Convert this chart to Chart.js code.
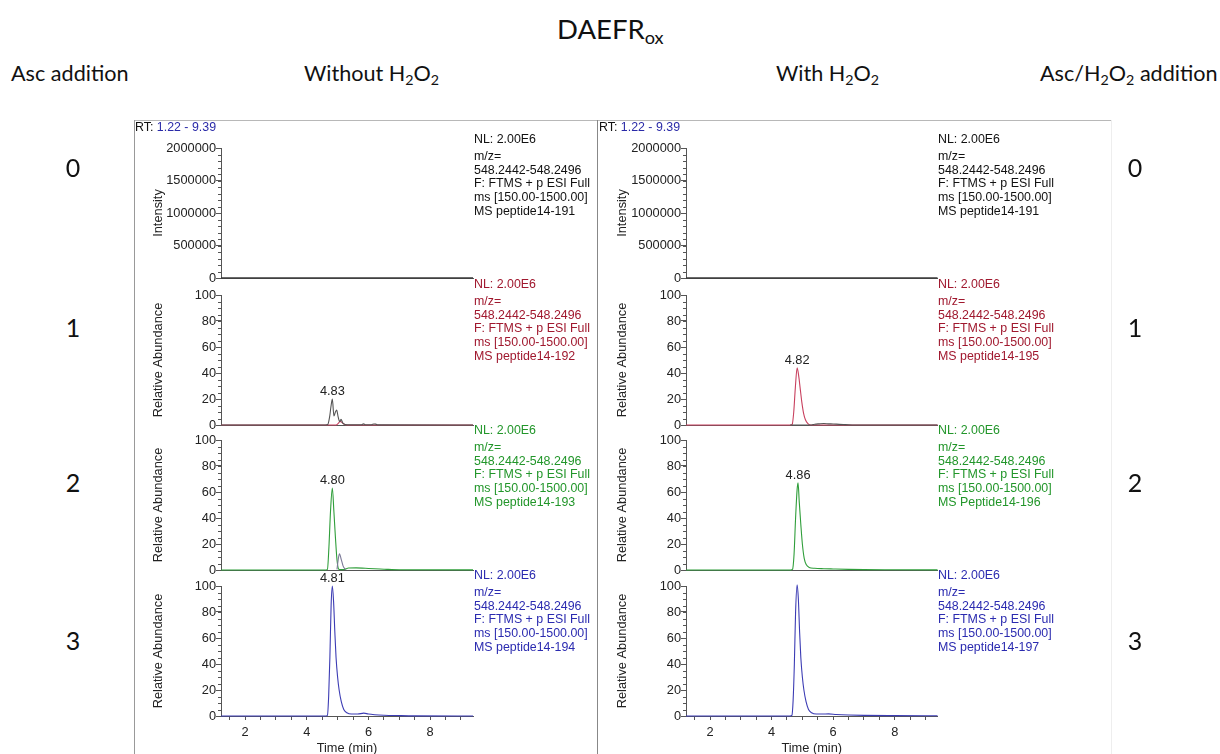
<!DOCTYPE html>
<html><head><meta charset="utf-8">
<script src="https://cdn.jsdelivr.net/npm/chart.js@4.4.1/dist/chart.umd.min.js"></script>
<style>
body{margin:0;width:1220px;height:754px;background:#fff;position:relative;overflow:hidden;font-family:"Liberation Sans",Arial,sans-serif}
.abs{position:absolute;white-space:nowrap}
.hdr{font-family:Lato,"Open Sans",sans-serif;color:#111;font-size:21.6px;line-height:26px}
.hdr sub{font-size:0.66em;vertical-align:-0.28em;line-height:0}
.num{font-family:Lato,"Open Sans",sans-serif;color:#111;font-size:25px;line-height:30px;width:40px;text-align:center}
canvas{position:absolute}
.ann{font-size:12.4px;line-height:13.7px}
.ann .nl{margin-bottom:3.3px}
.rt{font-size:12.4px;line-height:14px;color:#111}
.rt span{color:#2a2aa8}
.frame{position:absolute}
</style></head><body>
<script>
// ---------------- data ----------------
const timeRange = [1.22, 9.39];

// Without H2O2 (left column)
const tL0 = [1.22, 3.00, 5.00, 7.00, 9.39];
const yL0 = [0, 0, 0, 0, 0];

const tL1gray = [1.22, 4.60, 4.68, 4.74, 4.79, 4.83, 4.88, 4.93, 4.97, 5.02, 5.07, 5.11, 5.17, 5.25, 5.40, 5.78, 5.84, 5.90, 6.10, 6.18, 6.24, 6.30, 9.39];
const yL1gray = [0, 0, 0.3, 6, 15, 20, 7, 10, 11.5, 6, 2.5, 4.4, 1.5, 0.4, 0.2, 0.2, 0.9, 0.2, 0.2, 0.8, 0.7, 0.1, 0];
const tL1red = [1.22, 4.95, 5.02, 5.08, 5.14, 5.20, 5.30, 9.39];
const yL1red = [0, 0, 1.2, 2.8, 2.0, 0.8, 0, 0];

const tL2green = [1.22, 4.60, 4.67, 4.72, 4.77, 4.83, 4.88, 4.93, 4.98, 5.04, 5.10, 5.20, 5.28, 5.35, 5.60, 5.90, 6.20, 6.60, 7.00, 9.39];
const yL2green = [0, 0, 0.5, 18, 45, 63, 45, 25, 8, 0.5, 0.3, 0.3, 1.0, 1.5, 1.6, 1.3, 1.0, 0.5, 0.2, 0.1];
const tL2gray = [4.98, 5.02, 5.06, 5.12, 5.18, 5.26];
const yL2gray = [0.5, 8, 12.5, 8, 3, 0.3];

const tL3blue = [1.22, 4.60, 4.67, 4.71, 4.75, 4.79, 4.83, 4.87, 4.91, 4.95, 5.00, 5.05, 5.12, 5.20, 5.30, 5.45, 5.65, 5.85, 6.00, 6.20, 6.50, 7.00, 7.50, 9.39];
const yL3blue = [0, 0, 0.5, 15, 45, 85, 100, 88, 65, 45, 30, 20, 11, 5, 2.5, 1.5, 1.5, 2.2, 1.5, 1.0, 0.6, 0.3, 0.1, 0];

// With H2O2 (right column)
const tR0 = [1.22, 3.00, 5.00, 7.00, 9.39];
const yR0 = [0, 0, 0, 0, 0];

const tR1red = [1.22, 4.62, 4.67, 4.72, 4.77, 4.83, 4.88, 4.93, 4.98, 5.04, 5.10, 5.18, 5.25, 9.39];
const yR1red = [0, 0, 0.5, 10, 28, 44, 38, 28, 18, 9, 4, 1, 0, 0];
const tR1gray = [4.60, 5.30, 5.40, 5.55, 5.70, 5.85, 6.00, 6.20, 6.40, 6.70, 9.39];
const yR1gray = [0, 0, 0.6, 0.9, 1.1, 0.9, 0.8, 0.5, 0.3, 0, 0];

const tR2green = [1.22, 4.62, 4.68, 4.73, 4.78, 4.83, 4.86, 4.90, 4.95, 5.00, 5.06, 5.13, 5.22, 5.40, 5.70, 6.00, 6.50, 7.00, 8.00, 9.39];
const yR2green = [0, 0, 0.5, 12, 40, 62, 67, 52, 35, 20, 9, 4, 2, 1.3, 1.0, 0.8, 0.5, 0.3, 0.2, 0.1];

const tR3blue = [1.22, 4.60, 4.66, 4.70, 4.74, 4.78, 4.83, 4.87, 4.91, 4.95, 5.00, 5.05, 5.12, 5.20, 5.30, 5.45, 5.65, 5.85, 6.10, 6.50, 7.00, 8.00, 9.39];
const yR3blue = [0, 0, 0.5, 12, 40, 80, 101, 90, 65, 45, 30, 20, 11, 5, 2.5, 1.5, 1.5, 1.6, 1.2, 0.8, 0.5, 0.3, 0.2];

// peak RT labels
const peakLabelL1 = '4.83', peakLabelL2 = '4.80', peakLabelL3 = '4.81';
const peakLabelR1 = '4.82', peakLabelR2 = '4.86';

// y-axis ticks
const intensityTicks = [0, 500000, 1000000, 1500000, 2000000];
const abundanceTicks = [0, 20, 40, 60, 80, 100];
const timeTickLabels = [2, 4, 6, 8];

// annotation texts
const rawFilesLeft = ['MS peptide14-191', 'MS peptide14-192', 'MS peptide14-193', 'MS peptide14-194'];
const rawFilesRight = ['MS peptide14-191', 'MS peptide14-195', 'MS Peptide14-196', 'MS peptide14-197'];
const annLines = ['m/z=', '548.2442-548.2496', 'F: FTMS + p ESI Full', 'ms [150.00-1500.00]'];
const nlText = 'NL: 2.00E6';
const rowLabels = ['0', '1', '2', '3'];

// ---------------- layout / styles ----------------
const textColors = ['#111111', '#a0182e', '#22962a', '#2b2bb0'];
const C = { gray: '#555555', dark: '#3a3a3a', red: '#c8405e', green: '#2f9e3a', blue: '#3c3cb4', purple: '#7c7a98' };
const cols = [
  { x0: 148, axisX: 221, plotR: 473, annX: 474, rtX: 135 },
  { x0: 612, axisX: 686, plotR: 937.5, annX: 938, rtX: 599 }
];
const rows = [ { top: 148, zero: 278 }, { top: 295, zero: 425 }, { top: 440, zero: 570 }, { top: 586, zero: 716 } ];
const PADTOP = 22;

const mk = (t, y) => t.map((x, i) => ({ x, y: y[i] }));
const panels = [
  [ // left
    { traces: [{ d: mk(tL0, yL0), c: C.dark, w: 1.6 }], intensity: true },
    { traces: [{ d: mk(tL1gray, yL1gray), c: C.gray, w: 1.1, label: peakLabelL1 }, { d: mk(tL1red, yL1red), c: C.red, w: 1.1 }] },
    { traces: [{ d: mk(tL2gray, yL2gray), c: C.purple, w: 1.1 }, { d: mk(tL2green, yL2green), c: C.green, w: 1.1, label: peakLabelL2 }] },
    { traces: [{ d: mk(tL3blue, yL3blue), c: C.blue, w: 1.1, label: peakLabelL3 }], bottom: true }
  ],
  [ // right
    { traces: [{ d: mk(tR0, yR0), c: C.dark, w: 1.6 }], intensity: true },
    { traces: [{ d: mk(tR1gray, yR1gray), c: C.gray, w: 1.1 }, { d: mk(tR1red, yR1red), c: C.red, w: 1.1, label: peakLabelR1 }] },
    { traces: [{ d: mk(tR2green, yR2green), c: C.green, w: 1.1, label: peakLabelR2 }] },
    { traces: [{ d: mk(tR3blue, yR3blue), c: C.blue, w: 1.1 }], bottom: true }
  ]
];

const FONT = { family: '"Liberation Sans", Arial, sans-serif', size: 12.8 };
const AX = '#555555', TXT = '#222222';

const minorTicks = {
  id: 'minorTicks',
  afterDraw(chart, args, opts) {
    const ys = chart.scales.y, ctx = chart.ctx;
    ctx.save(); ctx.strokeStyle = AX; ctx.lineWidth = 1; ctx.beginPath();
    const n = Math.round(ys.max / opts.step);
    for (let i = 0; i <= n; i++) {
      const p = Math.round(ys.getPixelForValue(i * opts.step)) + 0.5;
      ctx.moveTo(ys.right - 3, p); ctx.lineTo(ys.right, p);
    }
    ctx.stroke(); ctx.restore();
  }
};
const peakLabels = {
  id: 'peakLabels',
  afterDatasetsDraw(chart) {
    const ctx = chart.ctx;
    chart.data.datasets.forEach((ds, di) => {
      if (!ds.peakLabel) return;
      let mi = 0;
      ds.data.forEach((p, i) => { if (p.y > ds.data[mi].y) mi = i; });
      const el = chart.getDatasetMeta(di).data[mi];
      ctx.save();
      ctx.font = `${FONT.size}px ${FONT.family}`;
      ctx.fillStyle = TXT; ctx.textAlign = 'center'; ctx.textBaseline = 'alphabetic';
      ctx.fillText(ds.peakLabel, el.x, el.y - 4);
      ctx.restore();
    });
  }
};

function addDiv(html, cls, style) {
  const d = document.createElement('div');
  d.className = 'abs ' + cls; d.innerHTML = html; d.setAttribute('style', style);
  document.body.appendChild(d); return d;
}

cols.forEach((col, ci) => {
  rows.forEach((row, ri) => {
    const p = panels[ci][ri];
    const xh = p.bottom ? 40 : 9;
    const cw = Math.round(col.plotR - col.x0 + 10);
    const ch = row.zero - row.top + PADTOP + xh;
    const cv = document.createElement('canvas');
    cv.width = cw; cv.height = ch;
    cv.style.left = col.x0 + 'px'; cv.style.top = (row.top - PADTOP) + 'px';
    cv.style.width = cw + 'px'; cv.style.height = ch + 'px';
    document.body.appendChild(cv);
    const yMax = p.intensity ? intensityTicks[intensityTicks.length - 1] : abundanceTicks[abundanceTicks.length - 1];
    const yStep = p.intensity ? intensityTicks[1] - intensityTicks[0] : abundanceTicks[1] - abundanceTicks[0];
    new Chart(cv, {
      type: 'line',
      data: { datasets: p.traces.map(tr => ({
        data: tr.d, borderColor: tr.c, borderWidth: tr.w, pointRadius: 0,
        tension: 0.3, cubicInterpolationMode: 'monotone', clip: 6, peakLabel: tr.label, fill: false
      })) },
      options: {
        responsive: false, animation: false, devicePixelRatio: 1,
        layout: { padding: { top: PADTOP, left: 0, bottom: 0, right: cw - (col.plotR - col.x0) } },
        plugins: { legend: { display: false }, tooltip: { enabled: false }, minorTicks: { step: p.intensity ? 100000 : 5 } },
        scales: {
          x: {
            type: 'linear', min: timeRange[0], max: timeRange[1],
            afterFit: s => { s.height = xh; },
            border: { color: AX, width: 1 },
            grid: { display: !!p.bottom, drawOnChartArea: false, tickLength: 4, color: AX },
            ticks: { display: !!p.bottom, stepSize: 0.5, includeBounds: false, autoSkip: false, maxRotation: 0,
              padding: 5, color: TXT, font: FONT,
              callback: v => timeTickLabels.includes(v) ? String(v) : '' },
            title: { display: !!p.bottom, text: 'Time (min)', padding: { top: 0, bottom: 0 }, color: TXT, font: FONT }
          },
          y: {
            min: 0, max: yMax,
            afterFit: s => { s.width = col.axisX - col.x0; },
            border: { color: AX, width: 1 },
            grid: { drawOnChartArea: false, tickLength: 5, color: AX },
            ticks: { stepSize: yStep, padding: 0, autoSkip: false, color: TXT, font: FONT, callback: v => String(v) },
            title: { display: true, text: p.intensity ? 'Intensity' : 'Relative Abundance', padding: { top: 3, bottom: 0 }, color: TXT, font: FONT }
          }
        }
      },
      plugins: [minorTicks, peakLabels]
    });
    // annotation block
    const files = ci === 0 ? rawFilesLeft : rawFilesRight;
    const nlY = [140, 285, 431, 576][ri];
    let html = `<div class="nl">${nlText}</div>` + annLines.map(l => `<div>${l}</div>`).join('') + `<div>${files[ri]}</div>`;
    addDiv(html, 'ann', `left:${col.annX}px;top:${nlY - 7}px;color:${textColors[ri]}`);
  });
  addDiv(`RT: <span>${timeRange[0].toFixed(2)} - ${timeRange[1].toFixed(2)}</span>`, 'rt', `left:${col.rtX}px;top:120px`);
});

// frames
addDiv('', 'frame', 'left:134px;top:120px;width:463px;height:0;border-top:1px solid #b8b8b8');
addDiv('', 'frame', 'left:597px;top:120px;width:515px;height:0;border-top:1px solid #b8b8b8');
addDiv('', 'frame', 'left:134px;top:120px;width:0;height:640px;border-left:1px solid #999');
addDiv('', 'frame', 'left:597px;top:120px;width:0;height:640px;border-left:1px solid #888');
addDiv('', 'frame', 'left:1111px;top:120px;width:0;height:640px;border-left:1px solid #eee');

// headers
addDiv('DAEFR<sub>ox</sub>', 'hdr', 'left:557px;top:13px;font-size:27.5px;line-height:32px');
addDiv('Asc addition', 'hdr', 'left:11px;top:60px');
addDiv('Without H<sub>2</sub>O<sub>2</sub>', 'hdr', 'left:304px;top:60px');
addDiv('With H<sub>2</sub>O<sub>2</sub>', 'hdr', 'left:776px;top:60px');
addDiv('Asc/H<sub>2</sub>O<sub>2</sub> addition', 'hdr', 'left:1040px;top:60px');
const rowY = [167, 327, 482, 640];
rowLabels.forEach((r, i) => {
  addDiv(r, 'num', `left:53px;top:${rowY[i] - 15}px`);
  addDiv(r, 'num', `left:1115px;top:${rowY[i] - 15}px`);
});
</script>
</body></html>
